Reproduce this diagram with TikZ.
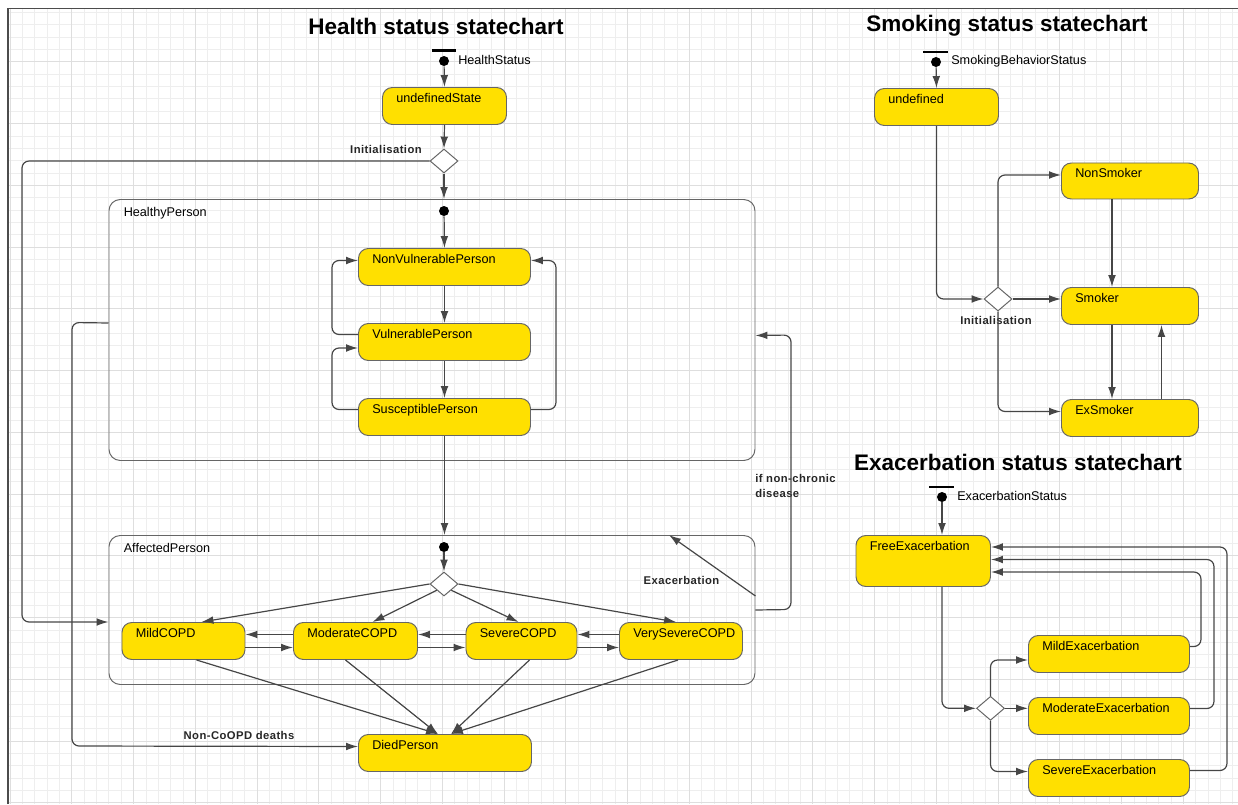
\documentclass[tikz,border=0pt]{standalone}
\usepackage{fontspec}
\setmainfont{Liberation Sans}
\newfontfamily\labelfont[LetterSpace=4]{Liberation Sans}
\usetikzlibrary{arrows.meta,shapes.geometric}

\definecolor{stateyellow}{RGB}{255,224,0}
\definecolor{linegray}{RGB}{70,70,70}
\definecolor{gridlight}{RGB}{238,238,238}
\definecolor{griddark}{RGB}{222,222,222}

\tikzset{
  statebox/.style 2 args={draw=black!60, fill=stateyellow, rounded corners=7pt, line width=0.7pt,
    minimum width=#1*0.025cm, minimum height=#2*0.025cm, anchor=north west, inner sep=0pt},
  region/.style 2 args={draw=black!60, rounded corners=8pt, line width=0.7pt,
    minimum width=#1*0.025cm, minimum height=#2*0.025cm, anchor=north west, inner sep=0pt},
  stlabel/.style={anchor=north west, inner sep=0pt, xshift=0.35cm, yshift=-0.15cm,
    font=\fontsize{9}{10}\selectfont},
  pdot/.style={circle, fill=black, inner sep=0pt, minimum size=0.25cm},
  bar/.style={line width=1.5pt, black},
  pslabel/.style={anchor=west, inner sep=0pt, font=\fontsize{9}{10}\selectfont},
  choice/.style={diamond, draw=black!60, fill=white, inner sep=0pt, line width=0.7pt,
    minimum width=0.7cm, minimum height=0.6cm},
  conn/.style={-{Latex[length=8.5pt,width=5.5pt]}, draw=linegray, line width=0.85pt, rounded corners=5pt},
  tlabel/.style={inner sep=0pt, font=\labelfont\fontsize{8}{10.5}\selectfont\bfseries, text=black!85},
  title/.style={inner sep=0pt, font=\fontsize{16}{18}\selectfont\bfseries},
  gridline/.style={draw=gridlight, line width=0.45pt},
  gridbold/.style={draw=griddark, line width=0.5pt}
}

\begin{document}
\begin{tikzpicture}[x=0.025cm, y=-0.025cm]
\useasboundingbox (0,0) rectangle (1238,804);

% Background grid
\foreach \k in {0,...,99} \draw[gridline] (10+12.35*\k,9) -- (10+12.35*\k,804);
\foreach \k in {1,...,65} \draw[gridline] (9,12.35*\k) -- (1238,12.35*\k);
\foreach \k in {0,5,...,95} \draw[gridbold] (10+12.35*\k,9) -- (10+12.35*\k,804);
\foreach \k in {5,10,...,65} \draw[gridbold] (9,12.35*\k) -- (1238,12.35*\k);
\draw[line width=1.4pt, black!70] (8,804) -- (8,8.5) -- (1238,8.5);

% Health status statechart
\node[title] (htitle) at (436,26) {Health status statechart};
\draw[bar] (432,50.5) -- (456,50.5);
\node[pdot] (hsdot) at (444,61) {};
\node[pslabel] (hslabel) at (458,60) {HealthStatus};
\node[statebox={124}{37}, label={[stlabel]north west:undefinedState}] (undef) at (382,87) {};
\node[choice] (hsinit) at (444,161) {};
\node[tlabel, anchor=east] (hsinitlabel) at (422,149) {Initialisation};

\node[region={646}{261}, label={[stlabel, xshift=0.025cm, yshift=-0.05cm]north west:HealthyPerson}] (healthy) at (108.5,199) {};
\node[pdot] (hpdot) at (444,211) {};
\node[statebox={172}{37}, label={[stlabel]north west:NonVulnerablePerson}] (nonvuln) at (358,248) {};
\node[statebox={172}{37}, label={[stlabel]north west:VulnerablePerson}] (vuln) at (358,323) {};
\node[statebox={172}{37}, label={[stlabel]north west:SusceptiblePerson}] (suscept) at (358,398) {};

\node[region={646}{149}, label={[stlabel, xshift=0.025cm, yshift=-0.05cm]north west:AffectedPerson}] (affected) at (108.5,535) {};
\node[pdot] (apdot) at (444,547) {};
\node[choice] (apinit) at (444,584) {};
\node[statebox={123}{37}, label={[stlabel]north west:MildCOPD}] (mild) at (121.5,622) {};
\node[statebox={124}{37}, label={[stlabel]north west:ModerateCOPD}] (moderate) at (293,622) {};
\node[statebox={111}{37}, label={[stlabel]north west:SevereCOPD}] (severe) at (465.5,622) {};
\node[statebox={123}{37}, label={[stlabel]north west:VerySevereCOPD}] (verysevere) at (619,622) {};
\node[statebox={173}{37}, label={[stlabel]north west:DiedPerson}] (died) at (358,734) {};

\node[tlabel] (deathlabel) at (239,735) {Non-CoOPD deaths};
\node[tlabel] (exalabel) at (681.5,580) {Exacerbation};
\node[tlabel, anchor=north west, align=left] (recovlabel) at (755,474) {if non-chronic\\disease};

% Health transitions
\draw[conn] (hsdot) -- (undef.north);
\draw[conn] (undef.south) -- (hsinit.north);
\draw[conn] (hsinit.south) -- (hsinit.south |- healthy.north);
\draw[conn] (hsinit.west) -- (22,161) -- (22,622) -- (mild.north -| affected.west);
\draw[conn] (hpdot) -- (nonvuln.north);
\draw[conn] (nonvuln.south) -- (vuln.north);
\draw[conn] (vuln.south) -- (suscept.north);
\draw[conn] ([shift={(0,-7.5)}]vuln.west) -- ++(-26,0) |- ([shift={(0,-6.5)}]nonvuln.west);
\draw[conn] ([shift={(0,-7.5)}]suscept.west) -- ++(-26,0) |- ([shift={(0,6)}]vuln.west);
\draw[conn] ([shift={(0,-7.5)}]suscept.east) -- ++(25,0) |- ([shift={(0,-6.5)}]nonvuln.east);
\draw[conn] (suscept.south) -- (suscept.south |- affected.north);
\draw[conn] (apdot) -- (apinit.north);
\draw[conn] (apinit.west) -- ([shift={(18,0)}]mild.north);
\draw[conn] (apinit.south west) -- ([shift={(17,0)}]moderate.north);
\draw[conn] (apinit.south east) -- ([shift={(-3,0)}]severe.north);
\draw[conn] (apinit.east) -- ([shift={(-5,0)}]verysevere.north);
\draw[conn] ([shift={(0,-6.5)}]moderate.west) -- ([shift={(0,-6.5)}]mild.east);
\draw[conn] ([shift={(0,6.5)}]mild.east) -- ([shift={(0,6.5)}]moderate.west);
\draw[conn] ([shift={(0,-6.5)}]severe.west) -- ([shift={(0,-6.5)}]moderate.east);
\draw[conn] ([shift={(0,6.5)}]moderate.east) -- ([shift={(0,6.5)}]severe.west);
\draw[conn] ([shift={(0,-6.5)}]verysevere.west) -- ([shift={(0,-6.5)}]severe.east);
\draw[conn] ([shift={(0,6.5)}]severe.east) -- ([shift={(0,6.5)}]verysevere.west);
\draw[conn] ([shift={(13,0)}]mild.south) -- ([shift={(-7,0)}]died.north);
\draw[conn] ([shift={(-10,0)}]moderate.south) -- ([shift={(-7,0)}]died.north);
\draw[conn] ([shift={(8,0)}]severe.south) -- ([shift={(6,0)}]died.north);
\draw[conn] ([shift={(-3,0)}]verysevere.south) -- ([shift={(6,0)}]died.north);
\draw[conn] ([shift={(0,-7)}]healthy.west) -- (72,322.5) -- (72,746) -- ([shift={(0,-6.5)}]died.west);
\draw[conn] ([shift={(0,-14)}]affected.east) -- ([shift={(237,0)}]affected.north);
\draw[conn] (affected.east) -- (791,609.5) -- (791,335) -- ([shift={(0,5.5)}]healthy.east);

% Smoking status statechart
\node[title] (stitle) at (1007,26) {Smoking status statechart};
\draw[bar] (923,52) -- (948,52);
\node[pdot] (ssdot) at (936,62) {};
\node[pslabel] (sslabel) at (951,61) {SmokingBehaviorStatus};
\node[statebox={124}{37}, label={[stlabel]north west:undefined}] (sundef) at (874,88) {};
\node[choice] (ssinit) at (998,299) {};
\node[tlabel] (ssinitlabel) at (996,320) {Initialisation};
\node[statebox={137}{36}, label={[stlabel]north west:NonSmoker}] (nonsmoker) at (1061,162.5) {};
\node[statebox={137}{37}, label={[stlabel]north west:Smoker}] (smoker) at (1061,287) {};
\node[statebox={137}{37}, label={[stlabel]north west:ExSmoker}] (exsmoker) at (1061,399) {};

\draw[conn] (ssdot) -- (sundef.north);
\draw[conn] (sundef.south) |- (ssinit.west);
\draw[conn] (ssinit.east) -- (ssinit.east -| smoker.west);
\draw[conn] (ssinit.north) |- ([shift={(0,-6)}]nonsmoker.west);
\draw[conn] (ssinit.south) |- ([shift={(0,-6.5)}]exsmoker.west);
\draw[conn] ([shift={(-18,0)}]nonsmoker.south) -- ([shift={(-18,0)}]smoker.north);
\draw[conn] ([shift={(-18,0)}]smoker.south) -- ([shift={(-18,0)}]exsmoker.north);
\draw[conn] ([shift={(31.5,0)}]exsmoker.north) -- ([shift={(31.5,0)}]smoker.south);

% Exacerbation status statechart
\node[title] (etitle) at (1018,462) {Exacerbation status statechart};
\draw[bar] (929,486.7) -- (954,486.7);
\node[pdot] (esdot) at (942,497) {};
\node[pslabel] (eslabel) at (957,496) {ExacerbationStatus};
\node[statebox={134.5}{51}, label={[stlabel]north west:FreeExacerbation}] (free) at (855.5,535) {};
\node[choice] (esinit) at (990.5,708.3) {};
\node[statebox={161}{37}, label={[stlabel]north west:MildExacerbation}] (mildex) at (1028,635) {};
\node[statebox={161}{37}, label={[stlabel]north west:ModerateExacerbation}] (modex) at (1028,697) {};
\node[statebox={161}{37}, label={[stlabel]north west:SevereExacerbation}] (sevex) at (1028,759) {};

\draw[conn] (esdot) -- (esdot |- free.north);
\draw[conn] (esdot |- free.south) |- (esinit.west);
\draw[conn] (esinit.north) |- ([shift={(0,6)}]mildex.west);
\draw[conn] (esinit.east) -- (esinit.east -| modex.west);
\draw[conn] (esinit.south) |- ([shift={(0,-6.5)}]sevex.west);
\draw[conn] ([shift={(0,-7.5)}]mildex.east) -- ++(11,0) |- ([shift={(0,11)}]free.east);
\draw[conn] ([shift={(0,-7.5)}]modex.east) -- ++(24,0) |- ([shift={(0,-1.5)}]free.east);
\draw[conn] ([shift={(0,-7.5)}]sevex.east) -- ++(37,0) |- ([shift={(0,-14)}]free.east);
\end{tikzpicture}
\end{document}
